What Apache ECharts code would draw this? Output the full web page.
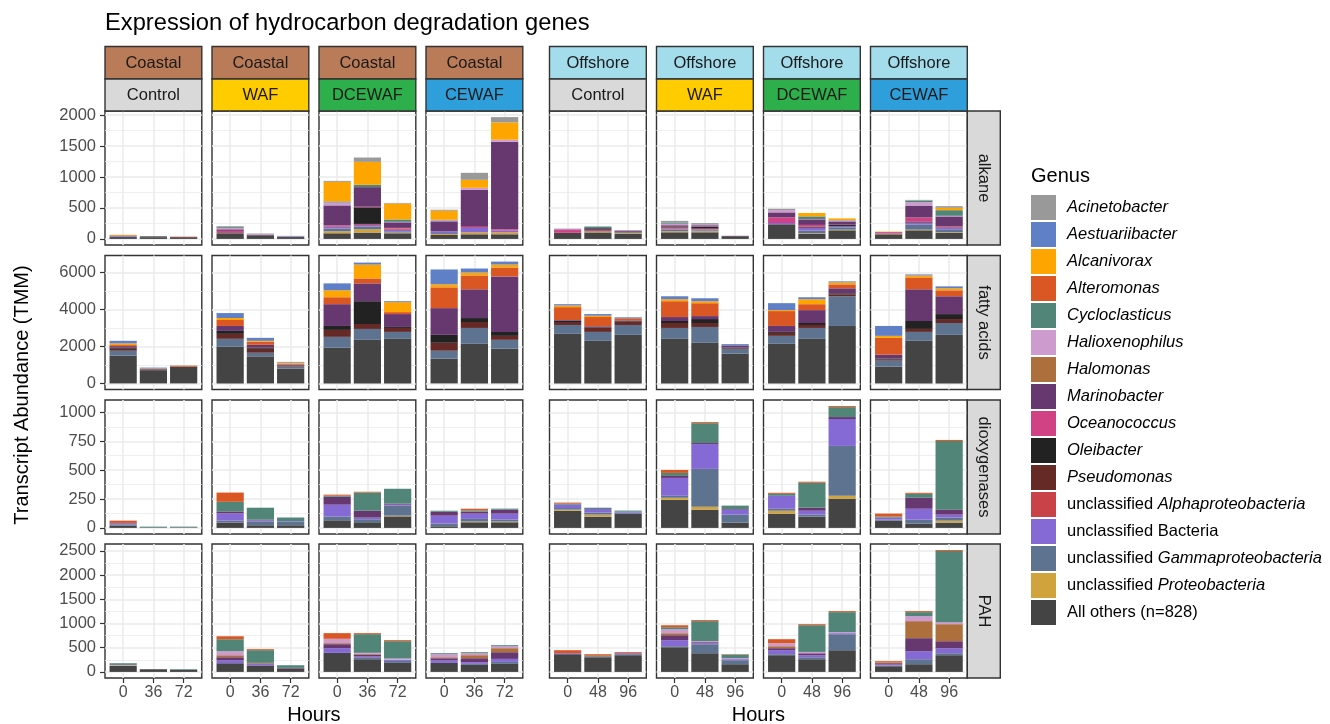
<!DOCTYPE html>
<html><head><meta charset="utf-8">
<script src="https://cdn.jsdelivr.net/npm/echarts@6/dist/echarts.min.js"></script>
<style>html,body{margin:0;padding:0;background:#fff}#c{width:1330px;height:724px}</style>
</head><body><div id="c"></div>
<script>
// ---------- categories / labels ----------
const sites = ['Coastal', 'Offshore'];
const treatments = ['Control', 'WAF', 'DCEWAF', 'CEWAF'];
const genes = ['alkane', 'fatty acids', 'dioxygenases', 'PAH'];
const hoursCoastal = ['0', '36', '72'];
const hoursOffshore = ['0', '48', '96'];
const genera = ['Acinetobacter', 'Aestuariibacter', 'Alcanivorax', 'Alteromonas', 'Cycloclasticus',
  'Halioxenophilus', 'Halomonas', 'Marinobacter', 'Oceanococcus', 'Oleibacter', 'Pseudomonas',
  'unclassified Alphaproteobacteria', 'unclassified Bacteria', 'unclassified Gammaproteobacteria',
  'unclassified Proteobacteria', 'All others (n=828)'];
const genusColors = ['#999999', '#5F7FC7', '#FFA500', '#DA5724', '#508578', '#CD9BCD', '#AD6F3B',
  '#673770', '#D14285', '#222222', '#652926', '#C84248', '#8569D5', '#5E738F', '#D1A33D', '#444444'];
const yTicks_alkane = [0, 500, 1000, 1500, 2000];
const yTicks_fatty = [0, 2000, 4000, 6000];
const yTicks_dioxy = [0, 250, 500, 750, 1000];
const yTicks_pah = [0, 500, 1000, 1500, 2000, 2500];

// ---------- values (TMM) ----------
// each array: Coastal Control, WAF, DCEWAF, CEWAF, Offshore Control, WAF, DCEWAF, CEWAF  x 3 time points
const alk_Others          = [30,25,28, 80,55,30, 91,102,91, 64,75,75, 95,105,86, 107,107,45, 236,80,139, 75,139,97];
const alk_uProteo         = [0,0,0, 0,0,0, 32,54,12, 16,32,32, 3,12,12, 16,16,0, 0,10,10, 5,10,10];
const alk_uGamma          = [5,0,0, 15,0,10, 43,43,20, 15,0,0, 0,10,10, 27,16,0, 0,43,38, 0,80,48];
const alk_uBacteria       = [10,0,0, 0,0,5, 32,27,25, 28,70,27, 0,0,0, 16,16,0, 21,43,16, 10,32,21];
const alk_uAlpha          = [0,0,8, 15,0,0, 11,16,20, 0,0,0, 0,15,0, 15,7,0, 0,0,0, 5,0,0];
const alk_Pseudomonas     = [0,0,0, 0,0,0, 0,0,0, 0,0,0, 0,8,0, 10,10,0, 0,10,0, 0,10,5];
const alk_Oleibacter      = [0,15,0, 0,5,0, 0,268,0, 0,0,0, 0,10,8, 10,20,0, 0,10,21, 0,10,5];
const alk_Oceanococcus    = [0,0,0, 20,0,0, 10,10,10, 0,21,21, 45,0,0, 0,8,0, 91,30,5, 15,65,16];
const alk_Marinobacter    = [10,0,0, 25,10,0, 322,316,90, 161,595,1415, 10,15,20, 20,20,0, 80,90,54, 0,193,161];
const alk_Halioxenophilus = [0,0,0, 20,8,5, 48,0,8, 16,32,32, 15,0,8, 25,15,8, 38,5,16, 0,54,10];
const alk_Cycloclasticus  = [0,0,0, 15,0,0, 16,38,38, 10,0,0, 0,25,0, 20,5,0, 0,43,5, 0,27,91];
const alk_Alcanivorax     = [12,0,0, 0,0,0, 316,370,257, 145,129,279, 0,0,0, 0,0,0, 0,54,27, 8,0,38];
const alk_Acinetobacter   = [0,0,0, 15,8,0, 16,70,10, 16,113,86, 0,0,0, 25,15,0, 21,0,0, 0,10,27];

const fat_Others          = [1500,714,893, 1982,1464,804, 1929,2357,2411, 1339,2143,1875, 2679,2304,2625, 2411,2196,1607, 2143,2411,3107, 911,2304,2625];
const fat_uGamma          = [268,0,0, 429,196,107, 589,589,375, 429,857,482, 482,482,536, 589,857,268, 429,589,1607, 321,482,643];
const fat_Pseudomonas     = [107,36,20, 268,214,54, 375,268,214, 429,321,214, 161,214,200, 268,214,54, 161,161,107, 54,161,214];
const fat_Oleibacter      = [54,18,0, 161,71,18, 214,1232,54, 429,214,214, 71,36,36, 107,214,18, 54,107,54, 54,429,268];
const fat_Marinobacter    = [89,0,0, 268,143,36, 1179,964,696, 1446,1554,3000, 36,54,18, 214,161,107, 321,696,268, 214,1714,964];
const fat_Alteromonas     = [54,15,50, 321,161,54, 375,268,107, 1125,750,482, 696,500,107, 857,696,0, 804,321,214, 911,643,321];
const fat_Alcanivorax     = [89,18,0, 107,54,54, 375,750,536, 161,161,161, 89,71,0, 107,107,0, 54,268,107, 107,107,107];
const fat_Aestuariibacter = [143,54,0, 268,161,36, 375,107,54, 804,214,161, 71,89,54, 161,161,71, 375,107,54, 536,54,107];

const dio_Others          = [20,4,4, 46,23,23, 66,49,100, 14,49,49, 149,98,123, 244,158,46, 123,98,253, 63,37,46];
const dio_uProteo         = [0,0,0, 0,0,0, 0,0,6, 0,6,6, 9,17,0, 17,26,0, 26,0,26, 0,0,17];
const dio_uGamma          = [11,0,2, 17,34,29, 32,26,86, 23,23,17, 14,17,9, 17,327,69, 17,17,431, 9,34,26];
const dio_uBacteria       = [9,0,0, 63,9,6, 103,14,9, 69,46,52, 29,32,9, 155,215,43, 112,34,233, 17,95,26];
const dio_Marinobacter    = [3,0,0, 17,6,0, 69,60,9, 34,17,34, 0,0,0, 17,9,6, 0,26,17, 0,95,43];
const dio_Cycloclasticus  = [0,7,5, 83,103,32, 9,158,129, 9,11,9, 9,11,9, 26,172,29, 17,216,86, 9,34,595];
const dio_Alteromonas     = [20,0,0, 80,0,0, 9,6,0, 0,14,0, 9,0,0, 26,9,0, 9,9,9, 26,9,9];

const pah_Others          = [124,55,40, 179,124,69, 393,262,186, 186,145,166, 366,303,345, 510,386,159, 345,262,448, 117,159,345];
const pah_uGamma          = [0,0,0, 0,0,0, 0,28,41, 0,21,41, 0,21,21, 21,186,83, 21,41,331, 14,103,41];
const pah_uBacteria       = [0,0,0, 62,28,0, 97,28,28, 55,34,62, 21,0,21, 124,21,21, 83,41,21, 21,166,103];
const pah_Marinobacter    = [0,0,0, 62,21,14, 83,41,0, 41,83,138, 0,0,0, 103,21,0, 41,41,0, 28,269,145];
const pah_Halomonas       = [10,0,0, 41,14,0, 21,14,0, 21,62,83, 0,21,0, 41,0,0, 41,0,0, 14,352,352];
const pah_Halioxenophilus = [11,0,0, 83,0,0, 90,21,21, 62,41,41, 0,0,0, 83,21,21, 62,28,21, 0,103,41];
const pah_Cycloclasticus  = [34,0,15, 248,262,55, 0,386,359, 21,21,21, 0,0,0, 41,414,76, 0,552,414, 0,83,1469];
const pah_Alteromonas     = [0,0,0, 62,21,0, 117,21,21, 0,0,0, 62,21,21, 41,21,7, 83,21,21, 28,21,21];

// ---------- assemble lookup ----------
const DATA = {
  'alkane': {
    'All others (n=828)': alk_Others, 'unclassified Proteobacteria': alk_uProteo,
    'unclassified Gammaproteobacteria': alk_uGamma, 'unclassified Bacteria': alk_uBacteria,
    'unclassified Alphaproteobacteria': alk_uAlpha, 'Pseudomonas': alk_Pseudomonas, 'Oleibacter': alk_Oleibacter,
    'Oceanococcus': alk_Oceanococcus, 'Marinobacter': alk_Marinobacter, 'Halioxenophilus': alk_Halioxenophilus,
    'Cycloclasticus': alk_Cycloclasticus, 'Alcanivorax': alk_Alcanivorax, 'Acinetobacter': alk_Acinetobacter
  },
  'fatty acids': {
    'All others (n=828)': fat_Others, 'unclassified Gammaproteobacteria': fat_uGamma, 'Pseudomonas': fat_Pseudomonas,
    'Oleibacter': fat_Oleibacter, 'Marinobacter': fat_Marinobacter, 'Alteromonas': fat_Alteromonas,
    'Alcanivorax': fat_Alcanivorax, 'Aestuariibacter': fat_Aestuariibacter
  },
  'dioxygenases': {
    'All others (n=828)': dio_Others, 'unclassified Proteobacteria': dio_uProteo,
    'unclassified Gammaproteobacteria': dio_uGamma, 'unclassified Bacteria': dio_uBacteria,
    'Marinobacter': dio_Marinobacter, 'Cycloclasticus': dio_Cycloclasticus, 'Alteromonas': dio_Alteromonas
  },
  'PAH': {
    'All others (n=828)': pah_Others, 'unclassified Gammaproteobacteria': pah_uGamma,
    'unclassified Bacteria': pah_uBacteria, 'Marinobacter': pah_Marinobacter, 'Halomonas': pah_Halomonas,
    'Halioxenophilus': pah_Halioxenophilus, 'Cycloclasticus': pah_Cycloclasticus, 'Alteromonas': pah_Alteromonas
  }
};
const yTicksByGene = [yTicks_alkane, yTicks_fatty, yTicks_dioxy, yTicks_pah];

// ---------- layout ----------
const FONT = '"Liberation Sans", Arial, Helvetica, sans-serif';
const panelW = 96.8, panelH = 134;
const rowTop = [111, 255.5, 400, 544];
function colLeft(c) { return c < 4 ? 105 + c * 107 : 549.5 + (c - 4) * 107; }
const siteFill = { 'Coastal': '#BA7B58', 'Offshore': '#A3DCEB' };
const trtFill = { 'Control': '#D9D9D9', 'WAF': '#FFCC00', 'DCEWAF': '#2DB04B', 'CEWAF': '#2E9FDA' };

const grids = [], xAxes = [], yAxes = [], series = [], graphics = [];

genes.forEach(function (gene, r) {
  const tbl = DATA[gene];
  const totals = [];
  for (let i = 0; i < 24; i++) {
    let s = 0;
    genera.forEach(function (g) { if (tbl[g]) s += tbl[g][i]; });
    totals.push(s);
  }
  const rowMax = Math.max.apply(null, totals);
  const yMin = -0.05 * rowMax, yMax = 1.05 * rowMax;
  const major = yTicksByGene[r];
  const step = major[1] - major[0];
  const minor = [major[0] - step / 2].concat(major.map(function (v) { return v + step / 2; }))
    .filter(function (v) { return v > yMin && v < yMax; });

  for (let c = 0; c < 8; c++) {
    const g = r * 8 + c;
    const hours = c < 4 ? hoursCoastal : hoursOffshore;
    grids.push({ left: colLeft(c), top: rowTop[r], width: panelW, height: panelH, show: true,
      backgroundColor: '#fff', borderColor: '#333', borderWidth: 1.4 });
    xAxes.push({
      gridIndex: g, type: 'value', min: 0.4, max: 3.6,
      axisLine: { show: false, onZero: false },
      axisTick: { show: r === 3, customValues: [1, 2, 3], length: 5, lineStyle: { color: '#333', width: 1.2 } },
      axisLabel: { show: r === 3, customValues: [1, 2, 3], margin: 7, fontSize: 16, color: '#4D4D4D', fontFamily: FONT,
        formatter: function (v) { return hours[Math.round(v) - 1]; } },
      splitLine: { show: true, lineStyle: { color: '#EBEBEB', width: 1.5 } }
    });
    yAxes.push({
      gridIndex: g, type: 'value', min: yMin, max: yMax, position: 'left',
      axisLine: { show: false, onZero: false },
      axisTick: { show: c === 0, customValues: major, length: 5, lineStyle: { color: '#333', width: 1.2 } },
      axisLabel: { show: c === 0, customValues: major, margin: 9, fontSize: 16.5, color: '#4D4D4D', fontFamily: FONT,
        formatter: function (v) { return String(Math.round(v)); } },
      splitLine: { show: true, lineStyle: { color: '#EBEBEB', width: 1.5 } }
    });
    yAxes.push({
      gridIndex: g, type: 'value', min: yMin, max: yMax, position: 'right',
      axisLine: { show: false, onZero: false },
      axisTick: { show: false, customValues: minor },
      axisLabel: { show: false, customValues: minor },
      splitLine: { show: true, lineStyle: { color: '#EBEBEB', width: 0.8 } }
    });
    for (let k = genera.length - 1; k >= 0; k--) {
      const arr = tbl[genera[k]];
      if (!arr) continue;
      const vals = arr.slice(c * 3, c * 3 + 3);
      if (vals.every(function (v) { return v === 0; })) continue;
      series.push({
        type: 'bar', name: genera[k], xAxisIndex: g, yAxisIndex: 2 * g, stack: 'p' + g,
        barWidth: '90%', dimensions: ['v', 'h'], encode: { x: 'h', y: 'v' },
        data: vals.map(function (v, i) { return [v, i + 1]; }),
        itemStyle: { color: genusColors[k] }, silent: true
      });
    }
  }
  // right strip
  graphics.push({ type: 'rect', shape: { x: colLeft(7) + panelW, y: rowTop[r], width: 33, height: panelH },
    style: { fill: '#D9D9D9', stroke: '#333', lineWidth: 1.4 }, z: 10 });
  graphics.push({ type: 'text', x: colLeft(7) + panelW + 16.5, y: rowTop[r] + panelH / 2, rotation: -Math.PI / 2,
    style: { text: gene, fontSize: 16.5, fontFamily: FONT, fill: '#1A1A1A', align: 'center', verticalAlign: 'middle' }, z: 11 });
});

// top strips
for (let c = 0; c < 8; c++) {
  const site = sites[c < 4 ? 0 : 1];
  const trt = treatments[c % 4];
  const x = colLeft(c);
  graphics.push({ type: 'rect', shape: { x: x, y: 46.5, width: panelW, height: 32.5 },
    style: { fill: siteFill[site], stroke: '#333', lineWidth: 1.4 }, z: 10 });
  graphics.push({ type: 'text', x: x + panelW / 2, y: 63, style: { text: site, fontSize: 16.5, fontFamily: FONT,
    fill: '#1A1A1A', align: 'center', verticalAlign: 'middle' }, z: 11 });
  graphics.push({ type: 'rect', shape: { x: x, y: 79, width: panelW, height: 32 },
    style: { fill: trtFill[trt], stroke: '#333', lineWidth: 1.4 }, z: 10 });
  graphics.push({ type: 'text', x: x + panelW / 2, y: 95.5, style: { text: trt, fontSize: 16.5, fontFamily: FONT,
    fill: '#1A1A1A', align: 'center', verticalAlign: 'middle' }, z: 11 });
}
// titles
graphics.push({ type: 'text', x: 105, y: 23, style: { text: 'Expression of hydrocarbon degradation genes',
  fontSize: 23.7, fontFamily: FONT, fill: '#000', align: 'left', verticalAlign: 'middle' } });
graphics.push({ type: 'text', x: 22, y: 395, rotation: Math.PI / 2, style: { text: 'Transcript Abundance (TMM)',
  fontSize: 20, fontFamily: FONT, fill: '#000', align: 'center', verticalAlign: 'middle' } });
graphics.push({ type: 'text', x: colLeft(0) + (colLeft(3) + panelW - colLeft(0)) / 2, y: 715, style: { text: 'Hours',
  fontSize: 20, fontFamily: FONT, fill: '#000', align: 'center', verticalAlign: 'middle' } });
graphics.push({ type: 'text', x: colLeft(4) + (colLeft(7) + panelW - colLeft(4)) / 2, y: 715, style: { text: 'Hours',
  fontSize: 20, fontFamily: FONT, fill: '#000', align: 'center', verticalAlign: 'middle' } });
graphics.push({ type: 'text', x: 1031, y: 176, style: { text: 'Genus',
  fontSize: 20, fontFamily: FONT, fill: '#000', align: 'left', verticalAlign: 'middle' } });

const chart = echarts.init(document.getElementById('c'), null, { renderer: 'canvas' });
chart.setOption({
  animation: false,
  backgroundColor: '#fff',
  grid: grids, xAxis: xAxes, yAxis: yAxes, series: series,
  legend: {
    data: genera, orient: 'vertical', left: 1031, top: 195, padding: 0,
    itemWidth: 25, itemHeight: 25, itemGap: 2,
    icon: 'rect', selectedMode: false,
    textStyle: { fontSize: 16.5, fontFamily: FONT, color: '#000', padding: [0, 0, 0, 6],
      rich: {
        n: { fontSize: 16.5, fontFamily: FONT, color: '#000' },
        i: { fontSize: 16.5, fontFamily: FONT, color: '#000', fontStyle: 'italic' }
      } },
    formatter: function (name) {
      if (name === 'All others (n=828)' || name === 'unclassified Bacteria') return '{n|' + name + '}';
      if (name.indexOf('unclassified ') === 0) return '{n|unclassified }{i|' + name.slice(13) + '}';
      return '{i|' + name + '}';
    }
  },
  graphic: { elements: graphics }
});
</script></body></html>
